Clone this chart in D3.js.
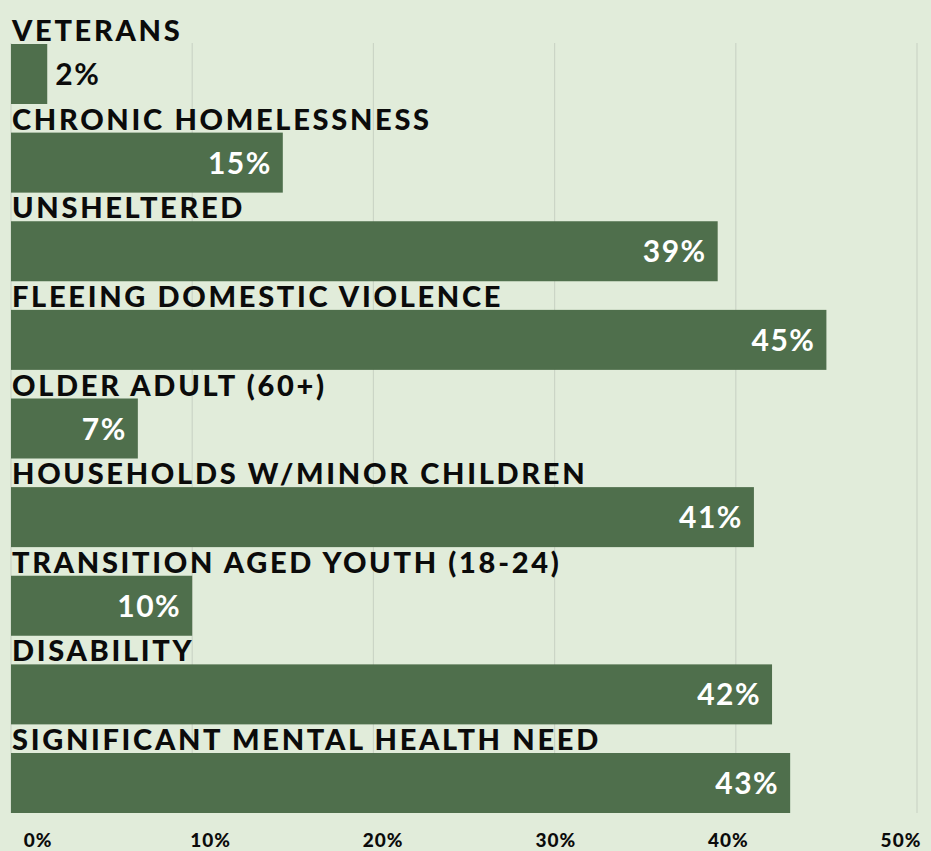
<!DOCTYPE html>
<html>
<head>
<meta charset="utf-8">
<script src="https://cdn.jsdelivr.net/npm/d3@7"></script>
<style>
  html, body { margin: 0; padding: 0; background: #e1ecda; }
  svg { display: block; }
  text { font-family: Lato, "DejaVu Sans", sans-serif; }
</style>
</head>
<body>
<div id="chart"></div>
<script>
const categories = [
  "VETERANS",
  "CHRONIC HOMELESSNESS",
  "UNSHELTERED",
  "FLEEING DOMESTIC VIOLENCE",
  "OLDER ADULT (60+)",
  "HOUSEHOLDS W/MINOR CHILDREN",
  "TRANSITION AGED YOUTH (18-24)",
  "DISABILITY",
  "SIGNIFICANT MENTAL HEALTH NEED"
];
const values = [2, 15, 39, 45, 7, 41, 10, 42, 43];
const tickValues = [0, 10, 20, 30, 40, 50];

const width = 931;
const height = 851;
const data = categories.map((c, i) => ({ name: c, value: values[i] }));

const svg = d3.select("#chart")
  .append("svg")
  .attr("width", width)
  .attr("height", height);

svg.append("rect")
  .attr("width", width)
  .attr("height", height)
  .attr("fill", "#e1ecda");

const x = d3.scaleLinear().domain([0, 50]).range([11, 917]);
// tick labels sit on their own slightly narrower spacing
const xLabel = d3.scaleLinear().domain([0, 50]).range([38, 901]);

const y = d3.scaleBand()
  .domain(categories)
  .range([44, 813])
  .paddingInner(0.323)
  .paddingOuter(0);

// gridlines
svg.append("g")
  .selectAll("line")
  .data(tickValues)
  .enter()
  .append("line")
  .attr("x1", (d) => x(d))
  .attr("x2", (d) => x(d))
  .attr("y1", 43)
  .attr("y2", 813)
  .attr("stroke", "#cbd5c6")
  .attr("stroke-width", 1.2);

// bars
svg.append("g")
  .selectAll("rect")
  .data(data)
  .enter()
  .append("rect")
  .attr("x", x(0))
  .attr("y", (d) => y(d.name))
  .attr("width", (d) => x(d.value) - x(0))
  .attr("height", y.bandwidth())
  .attr("fill", "#4f6f4c");

// category labels
svg.append("g")
  .selectAll("text")
  .data(data)
  .enter()
  .append("text")
  .attr("x", 12)
  .attr("y", (d) => y(d.name) - 3)
  .attr("fill", "#0b0b0b")
  .style("font-size", "29px")
  .style("font-weight", 900)
  .style("letter-spacing", "2.7px")
  .text((d) => d.name);

// value labels
svg.append("g")
  .selectAll("text")
  .data(data)
  .enter()
  .append("text")
  .attr("x", (d) => (d.value < 5 ? x(d.value) + 8 : x(d.value) - 11))
  .attr("y", (d) => y(d.name) + y.bandwidth() / 2 + 11)
  .attr("text-anchor", (d) => (d.value < 5 ? "start" : "end"))
  .attr("fill", (d) => (d.value < 5 ? "#0b0b0b" : "#ffffff"))
  .style("font-size", "30px")
  .style("font-weight", 700)
  .style("letter-spacing", "1.5px")
  .text((d) => d.value + "%");

// axis tick labels
svg.append("g")
  .selectAll("text")
  .data(tickValues)
  .enter()
  .append("text")
  .attr("x", (d) => xLabel(d))
  .attr("y", 847)
  .attr("text-anchor", "middle")
  .attr("fill", "#0b0b0b")
  .style("font-size", "19px")
  .style("font-weight", 900)
  .style("letter-spacing", "1px")
  .text((d) => d + "%");
</script>
</body>
</html>
